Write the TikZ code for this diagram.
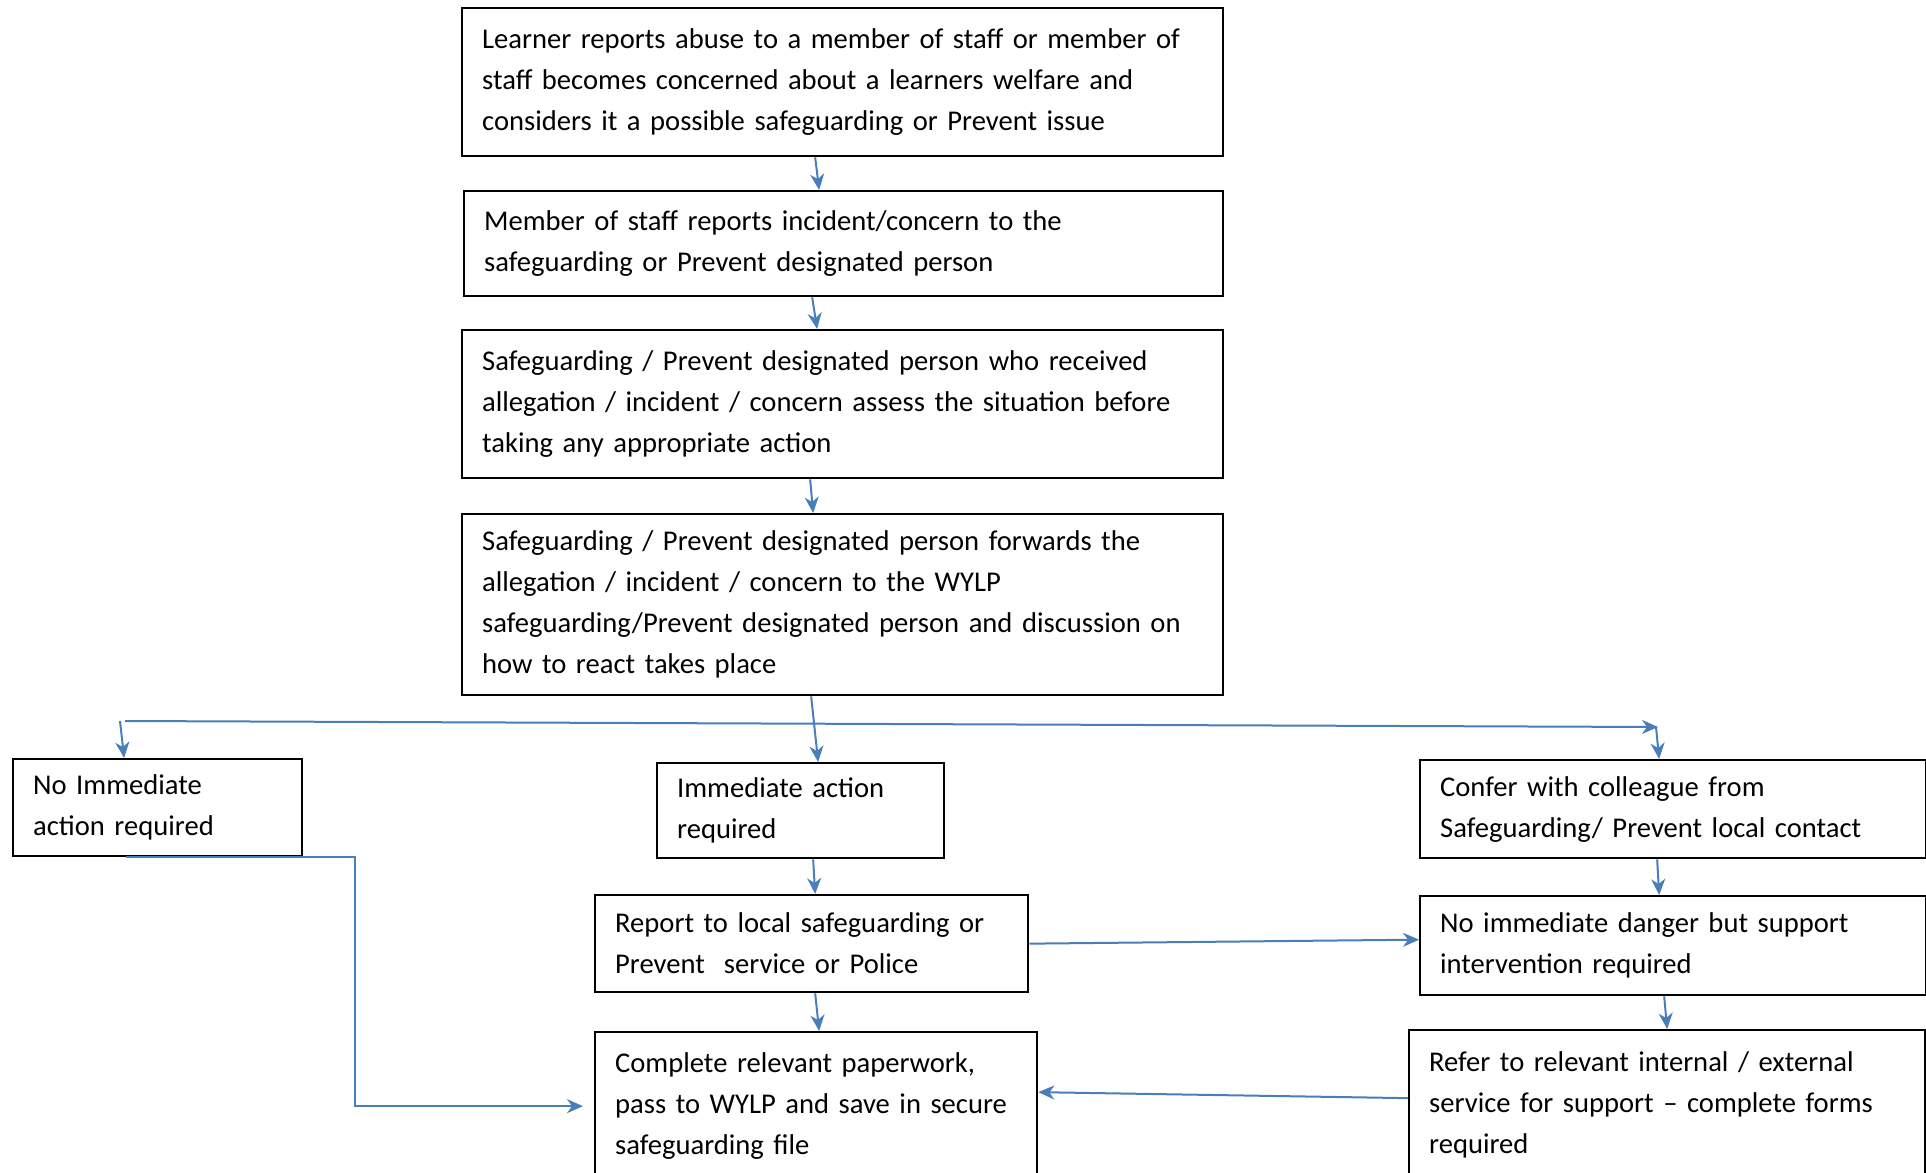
\documentclass[tikz,border=0pt]{standalone}
\usepackage{fontspec}
\setmainfont{Carlito}
\usetikzlibrary{arrows.meta}
\definecolor{flowblue}{HTML}{4A7EBB}

\begin{document}
\begin{tikzpicture}[x=1pt,y=-1pt,
    box/.style={draw,line width=2.3pt,anchor=north west,align=left,
        inner xsep=20pt,inner ysep=0pt,
        font=\fontsize{28.6pt}{41pt}\selectfont},
    flow/.style={draw=flowblue,line width=2pt,
        -{Stealth[length=16pt,width=14pt,inset=5pt]}}]
    \useasboundingbox (0,0) rectangle (1926,1172);
    \clip (0,0) rectangle (1926,1172);

    \node[box,text width=721pt,minimum height=148pt] (learner) at (461,7)
        {Learner reports abuse to a member of staff or member of\\
         staff becomes concerned about a learners welfare and\\
         considers it a possible safeguarding or Prevent issue};
    \node[box,text width=719pt,minimum height=105pt] (staff) at (463,190)
        {Member of staff reports incident/concern to the\\
         safeguarding or Prevent designated person};
    \node[box,text width=721pt,minimum height=148pt] (assess) at (461,329)
        {Safeguarding / Prevent designated person who received\\
         allegation / incident / concern assess the situation before\\
         taking any appropriate action};
    \node[box,text width=721pt,minimum height=181pt] (forward) at (461,513)
        {Safeguarding / Prevent designated person forwards the\\
         allegation / incident / concern to the WYLP\\
         safeguarding/Prevent designated person and discussion on\\
         how to react takes place};

    \node[box,text width=249pt,minimum height=97pt] (noaction) at (12,758)
        {No Immediate\\ action required};
    \node[box,text width=247pt,minimum height=95pt] (immediate) at (656,762)
        {Immediate action\\ required};
    \node[box,text width=466pt,minimum height=98pt] (confer) at (1419,759)
        {Confer with colleague from\\ Safeguarding/ Prevent local contact};
    \node[box,text width=393pt,minimum height=97pt] (report) at (594,894)
        {Report to local safeguarding or\\ Prevent\ \ service or Police};
    \node[box,text width=466pt,minimum height=99pt] (support) at (1419,895)
        {No immediate danger but support\\ intervention required};
    \node[box,text width=402pt,minimum height=148pt] (paperwork) at (594,1031)
        {Complete relevant paperwork,\\ pass to WYLP and save in secure\\
         safeguarding file};
    \node[box,text width=476pt,minimum height=150pt] (refer) at (1408,1029)
        {Refer to relevant internal / external\\
         service for support -- complete forms\\ required};

    \coordinate (splitL) at (125,721);
    \coordinate (splitR) at (1658,727);

    \draw[flow] ([xshift=-27.5pt]learner.south) -- ([xshift=-24.5pt]staff.north);
    \draw[flow] ([xshift=-31.5pt]staff.south) -- ([xshift=-25.5pt]assess.north);
    \draw[flow] ([xshift=-32.5pt]assess.south) -- ([xshift=-29.5pt]forward.north);
    \draw[flow] ([xshift=-31.5pt]forward.south) -- ([xshift=17.5pt]immediate.north);
    \draw[flow] (splitL) -- (splitR);
    \draw[flow] ([xshift=-5pt]splitL) -- ([xshift=-33.5pt]noaction.north);
    \draw[flow] ([xshift=-2pt]splitR) -- ([xshift=-14pt]confer.north);
    \draw[flow] ([xshift=-31.5pt]noaction.south) -- ++(229,0)
        |- ([xshift=-11pt]paperwork.west);
    \draw[flow] ([xshift=12.5pt]immediate.south) -- ([xshift=3.5pt]report.north);
    \draw[flow] ([xshift=3.5pt]report.south) -- ([xshift=3pt]paperwork.north);
    \draw[flow] (report.east) -- ([yshift=6pt]support.west);
    \draw[flow] ([xshift=-16pt]confer.south) -- ([xshift=-14pt]support.north);
    \draw[flow] ([xshift=-9pt]support.south) -- (refer.north);
    \draw[flow] ([yshift=7pt]refer.west) -- ([yshift=14pt]paperwork.east);
\end{tikzpicture}
\end{document}
